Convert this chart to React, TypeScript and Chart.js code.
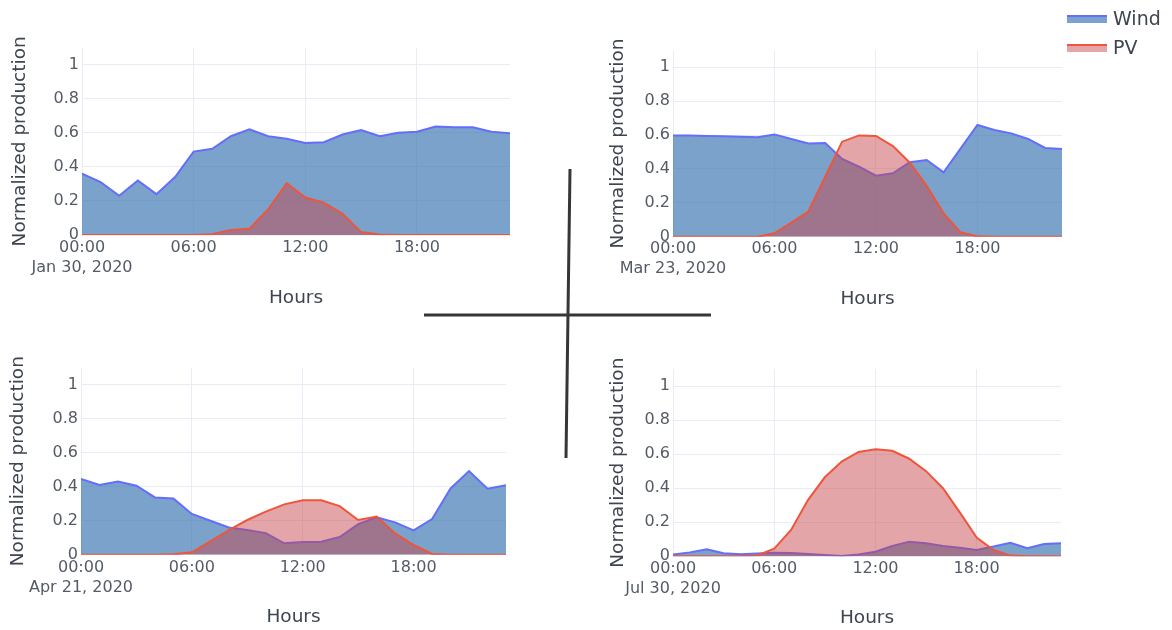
import React, { useEffect, useRef } from "react";
import { Chart, registerables } from "chart.js";

Chart.register(...registerables);

const hours = [0, 1, 2, 3, 4, 5, 6, 7, 8, 9, 10, 11, 12, 13, 14, 15, 16, 17, 18, 19, 20, 21, 22, 23];
const xTickValues = [0, 6, 12, 18];
const xTickLabels = ["00:00", "06:00", "12:00", "18:00"];
const yTickValues = [0, 0.2, 0.4, 0.6, 0.8, 1];
const yTickLabels = ["0", "0.2", "0.4", "0.6", "0.8", "1"];
const dateLabels = ["Jan 30, 2020", "Mar 23, 2020", "Apr 21, 2020", "Jul 30, 2020"];
const seriesNames = ["Wind", "PV"];
const xTitle = "Hours";
const yTitle = "Normalized production";

const windJan = [0.36, 0.31, 0.23, 0.32, 0.24, 0.34, 0.49, 0.506, 0.58, 0.62, 0.58, 0.565, 0.54, 0.545, 0.59, 0.617, 0.58, 0.6, 0.607, 0.637, 0.633, 0.633, 0.607, 0.598];
const pvJan = [0, 0, 0, 0, 0, 0, 0, 0.005, 0.03, 0.037, 0.15, 0.305, 0.22, 0.19, 0.125, 0.017, 0.003, 0, 0, 0, 0, 0, 0, 0];

const windMar = [0.598, 0.598, 0.595, 0.593, 0.59, 0.587, 0.604, 0.577, 0.55, 0.553, 0.459, 0.413, 0.36, 0.374, 0.44, 0.453, 0.38, 0.52, 0.66, 0.63, 0.61, 0.577, 0.524, 0.518];
const pvMar = [0, 0, 0, 0, 0, 0, 0.02, 0.083, 0.148, 0.354, 0.561, 0.598, 0.595, 0.535, 0.437, 0.3, 0.138, 0.026, 0.002, 0, 0, 0, 0, 0];

const windApr = [0.445, 0.41, 0.431, 0.406, 0.337, 0.33, 0.24, 0.2, 0.16, 0.145, 0.127, 0.067, 0.075, 0.076, 0.104, 0.18, 0.22, 0.19, 0.143, 0.21, 0.39, 0.492, 0.388, 0.408];
const pvApr = [0, 0, 0, 0, 0, 0.002, 0.014, 0.078, 0.145, 0.204, 0.253, 0.296, 0.32, 0.32, 0.286, 0.204, 0.224, 0.125, 0.057, 0.004, 0, 0, 0, 0];

const windJul = [0.01, 0.023, 0.041, 0.018, 0.012, 0.016, 0.021, 0.02, 0.014, 0.008, 0.002, 0.01, 0.027, 0.06, 0.086, 0.076, 0.06, 0.05, 0.037, 0.057, 0.08, 0.047, 0.072, 0.076];
const pvJul = [0, 0, 0, 0, 0, 0.005, 0.045, 0.155, 0.33, 0.464, 0.556, 0.613, 0.628, 0.62, 0.573, 0.5, 0.4, 0.258, 0.11, 0.037, 0.004, 0, 0, 0];

const FONT = "'DejaVu Sans', Verdana, sans-serif";
const WIND_LINE = "#636efa";
const WIND_FILL = "rgba(66,122,181,0.7)";
const PV_LINE = "#ef553b";
const PV_FILL = "rgba(199,70,76,0.485)";
const GRID = "#e8edf5";
const TICK_COLOR = "#555b66";
const TITLE_COLOR = "#3e4450";
const TITLE_SIZE = 18.5;

type Layout = {
  cl: number; ct: number; cw: number; ch: number;
  pl: number; pr: number; pt: number; pb: number;
  yTitleX: number; tickY: number; titleY: number;
};

const layouts: Layout[] = [
  { cl: 0, ct: 30, cw: 530, ch: 292, pl: 82, pr: 510, pt: 47.7, pb: 235, yTitleX: 20, tickY: 248, titleY: 298 },
  { cl: 590, ct: 30, cw: 485, ch: 292, pl: 673, pr: 1062, pt: 50.4, pb: 236.7, yTitleX: 618, tickY: 249, titleY: 299 },
  { cl: 0, ct: 350, cw: 530, ch: 280, pl: 81, pr: 506, pt: 367.7, pb: 554.7, yTitleX: 18, tickY: 568, titleY: 617 },
  { cl: 590, ct: 350, cw: 485, ch: 280, pl: 673, pr: 1061, pt: 369, pb: 556.3, yTitleX: 618, tickY: 569, titleY: 618 },
];

const panelData = [
  { wind: windJan, pv: pvJan },
  { wind: windMar, pv: pvMar },
  { wind: windApr, pv: pvApr },
  { wind: windJul, pv: pvJul },
];

function Panel({ index }: { index: number }) {
  const ref = useRef<HTMLCanvasElement | null>(null);
  const L = layouts[index];
  useEffect(() => {
    if (!ref.current) return;
    const d = panelData[index];
    const tickFont = { family: FONT, size: 16, lineHeight: 1.25 };
    const titleFont = { family: FONT, size: TITLE_SIZE, lineHeight: 1.2 };
    const tickPad = L.tickY - L.pb - 10;
    const xTitlePad = L.ct + L.ch - L.titleY - (TITLE_SIZE * 1.2) / 2;
    const yTitlePlugin = {
      id: "yTitle" + index,
      afterDraw(chart: any) {
        const { ctx, chartArea } = chart;
        ctx.save();
        ctx.translate(L.yTitleX - L.cl, (chartArea.top + chartArea.bottom) / 2);
        ctx.rotate(-Math.PI / 2);
        ctx.font = `${TITLE_SIZE}px ${FONT}`;
        ctx.fillStyle = TITLE_COLOR;
        ctx.textAlign = "center";
        ctx.textBaseline = "middle";
        ctx.fillText(yTitle, 0, 0);
        ctx.restore();
      },
    };
    const chart = new Chart(ref.current, {
      type: "line",
      data: {
        datasets: [
          {
            label: seriesNames[0],
            data: hours.map((h, i) => ({ x: h, y: d.wind[i] })),
            borderColor: WIND_LINE,
            backgroundColor: WIND_FILL,
            borderWidth: 2,
            fill: "origin",
            pointRadius: 0,
            tension: 0,
            order: 2,
          },
          {
            label: seriesNames[1],
            data: hours.map((h, i) => ({ x: h, y: d.pv[i] })),
            borderColor: PV_LINE,
            backgroundColor: PV_FILL,
            borderWidth: 2,
            fill: "origin",
            pointRadius: 0,
            tension: 0,
            order: 1,
          },
        ],
      },
      options: {
        responsive: false,
        maintainAspectRatio: false,
        animation: false,
        layout: {
          padding: { top: L.pt - L.ct, right: L.cl + L.cw - L.pr, left: 0, bottom: 0 },
        },
        plugins: {
          legend: { display: false },
          tooltip: { enabled: false },
        },
        scales: {
          x: {
            type: "linear",
            min: 0,
            max: 23,
            afterBuildTicks: (s: any) => {
              s.ticks = xTickValues.map((v) => ({ value: v }));
            },
            afterFit: (s: any) => {
              s.height = L.ct + L.ch - L.pb;
            },
            ticks: {
              autoSkip: false,
              maxRotation: 0,
              minRotation: 0,
              padding: tickPad,
              color: TICK_COLOR,
              font: tickFont,
              callback: (v: any) => {
                const i = xTickValues.indexOf(Number(v));
                if (i === 0) return [xTickLabels[0], dateLabels[index]];
                return i >= 0 ? xTickLabels[i] : "";
              },
            },
            grid: { color: GRID, lineWidth: 1, drawTicks: false },
            border: { display: false },
            title: {
              display: true,
              text: xTitle,
              color: TITLE_COLOR,
              font: titleFont,
              padding: { top: 0, bottom: xTitlePad },
            },
          },
          y: {
            type: "linear",
            min: 0,
            max: 1.1,
            afterBuildTicks: (s: any) => {
              s.ticks = yTickValues.map((v) => ({ value: v }));
            },
            afterFit: (s: any) => {
              s.width = L.pl - L.cl;
            },
            ticks: {
              padding: 3,
              color: TICK_COLOR,
              font: tickFont,
              callback: (v: any) => {
                const i = yTickValues.findIndex((t) => Math.abs(t - Number(v)) < 1e-9);
                return i >= 0 ? yTickLabels[i] : "";
              },
            },
            grid: { color: GRID, lineWidth: 1, drawTicks: false },
            border: { display: false },
          },
        },
      },
      plugins: [yTitlePlugin],
    } as any);
    return () => chart.destroy();
  }, [index]);
  return (
    <canvas
      ref={ref}
      width={L.cw}
      height={L.ch}
      style={{ position: "absolute", left: L.cl, top: L.ct, width: L.cw, height: L.ch }}
    />
  );
}

function LegendRow({ top, line, fill, text }: { top: number; line: string; fill: string; text: string }) {
  return (
    <div style={{ position: "absolute", left: 1067, top, height: 28, width: 105 }}>
      <div
        style={{
          position: "absolute",
          left: 0,
          top: 0,
          width: 40,
          height: 6,
          background: fill,
          borderTop: `2px solid ${line}`,
        }}
      />
      <div
        style={{
          position: "absolute",
          left: 46,
          top: -11,
          fontFamily: FONT,
          fontSize: 19,
          lineHeight: "28px",
          color: TITLE_COLOR,
          whiteSpace: "nowrap",
        }}
      >
        {text}
      </div>
    </div>
  );
}

export default function App() {
  return (
    <div
      style={{
        position: "absolute",
        left: 0,
        top: 0,
        width: 1172,
        height: 630,
        background: "#ffffff",
        overflow: "hidden",
      }}
    >
      <Panel index={0} />
      <Panel index={1} />
      <Panel index={2} />
      <Panel index={3} />
      <LegendRow top={15} line={WIND_LINE} fill={WIND_FILL} text={seriesNames[0]} />
      <LegendRow top={44} line={PV_LINE} fill={PV_FILL} text={seriesNames[1]} />
      <svg
        width={1172}
        height={630}
        style={{ position: "absolute", left: 0, top: 0, pointerEvents: "none" }}
      >
        <line x1={570} y1={169} x2={566} y2={458} stroke="#363636" strokeWidth={3} />
        <line x1={424} y1={315} x2={711} y2={315} stroke="#363636" strokeWidth={3} />
      </svg>
    </div>
  );
}
